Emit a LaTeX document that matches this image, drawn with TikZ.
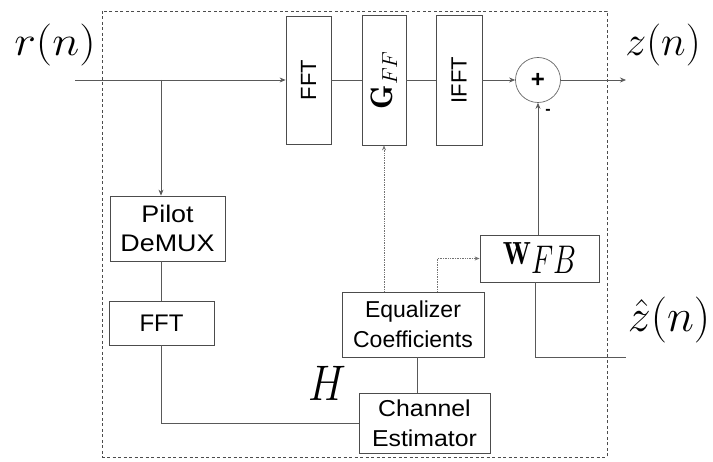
\RequirePackage{fix-cm}
\documentclass[tikz,border=0pt]{standalone}
\usepackage{fontspec}
\newfontfamily\hv{Liberation Sans}
\usetikzlibrary{arrows.meta,calc}
\tikzset{
  blk/.style={draw=black!70, line width=0.8pt, fill=white, inner sep=0pt, align=center, font=\hv\fontsize{23}{30}\selectfont},
  wire/.style={draw=black!65, line width=0.7pt},
  arr/.style={wire, -{Stealth[length=6pt,width=5pt]}},
  dot/.style={draw=black!55, line width=0.7pt, densely dotted},
  mlab/.style={inner sep=0pt},
}
\begin{document}
\begin{tikzpicture}[x=1pt,y=-1pt]
\useasboundingbox (0,0) rectangle (713,462);
% frame
\draw[black!70, line width=0.9pt, dash pattern=on 3pt off 2.5pt] (102,11) rectangle (607,457);
% blocks
\node[blk, font=\hv\fontsize{22}{26}\selectfont, minimum width=45pt, minimum height=128pt] (fft1) at (308.5,80) {\rotatebox{90}{FFT}};
\node[blk, minimum width=44pt, minimum height=130pt] (gff) at (384,80) {\rotatebox{90}{\fontsize{31}{33}\selectfont$\mathbf{G}_{FF}$}};
\node[blk, font=\hv\fontsize{22}{26}\selectfont, minimum width=46pt, minimum height=130pt] (ifft) at (459,80) {\rotatebox{90}{IFFT}};
\node[draw=black!60, line width=0.7pt, circle, minimum size=45pt, inner sep=0pt, font=\hv\bfseries\fontsize{24}{24}\selectfont] (sum) at (538,80) {+};
\node[blk, font=\hv\fontsize{24}{29}\selectfont, minimum width=115pt, minimum height=65pt] (demux) at (167.5,228.5) {\scalebox{1.12}[1]{Pilot}\\\scalebox{1.12}[1]{DeMUX}};
\node[blk, font=\hv\fontsize{24}{29}\selectfont, minimum width=105pt, minimum height=44pt] (fft2) at (161.5,323) {FFT};
\node[blk, minimum width=131pt, minimum height=60pt] (chest) at (424.5,423) {\scalebox{1.08}[1]{Channel}\\\scalebox{1.08}[1]{Estimator}};
\node[blk, minimum width=142pt, minimum height=65pt] (eqc) at (413,324.5) {Equalizer\\Coefficients};
\node[blk, minimum width=119pt, minimum height=47pt] (wfb) at (539.5,258.5) {\scalebox{0.85}[1]{\fontsize{32}{34}\selectfont$\mathbf{W}$}\raisebox{-9pt}{\scalebox{0.72}[1]{\fontsize{40}{42}\selectfont$FB$}}};
% coordinates
\coordinate (rin) at (75,80);
\coordinate (br) at (161,80);
\coordinate (out) at (626,80);
\coordinate (zh) at (626,357);
\coordinate (fb) at (535,357);
% labels
\node[mlab, font=\fontsize{42}{44}\selectfont] (rl) at (55,45) {\scalebox{1.1}[1]{$r(n)$}};
\node[mlab, font=\fontsize{42}{44}\selectfont] (zl) at (663,45) {$z(n)$};
\node[mlab, font=\fontsize{46}{48}\selectfont] (zhl) at (669,320) {$\hat{z}(n)$};
\node[mlab, font=\fontsize{50}{52}\selectfont] (hl) at (327,383) {\scalebox{0.85}[1]{$H$}};
\node[inner sep=0pt, font=\hv\bfseries\fontsize{16}{16}\selectfont] (minus) at (548,112) {-};
% connectors
\draw[arr] (rin) -- (fft1.west);
\draw[wire] (fft1.east) -- (gff.west);
\draw[wire] (gff.east) -- (ifft.west);
\draw[arr] (ifft.east) -- (sum.west);
\draw[arr] (sum.east) -- (out);
\draw[arr] (br) -- (br |- demux.north);
\draw[wire] (br |- demux.south) -- (br |- fft2.north);
\draw[wire] (br |- fft2.south) |- (chest.west);
\draw[wire] (eqc.south -| 417,0) -- (chest.north -| 417,0);
\draw[dot, -{Stealth[length=5pt,width=4pt]}] (eqc.north -| gff.south) -- (gff.south);
\draw[dot, -{Stealth[length=5pt,width=4pt]}] (eqc.north -| 437,0) |- (wfb.west);
\draw[arr] (wfb.north -| sum.south) -- (sum.south);
\draw[wire] (wfb.south -| fb) -- (fb) -- (zh);
\end{tikzpicture}
\end{document}
